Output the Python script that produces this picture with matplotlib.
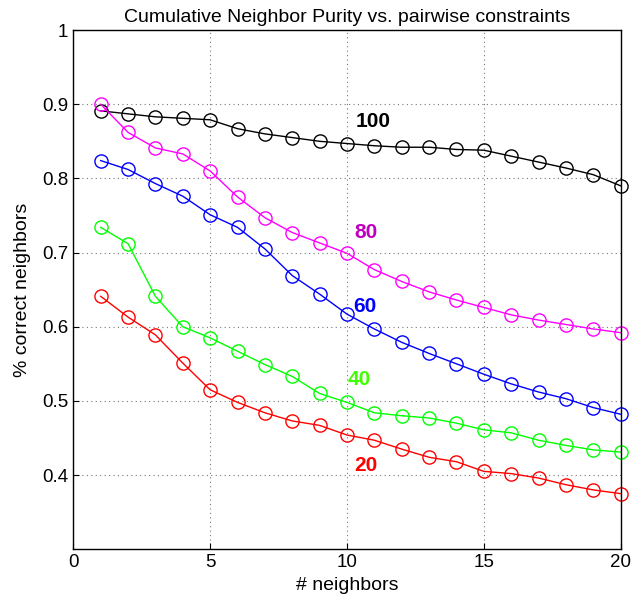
import matplotlib
matplotlib.use('Agg')
import matplotlib.pyplot as plt

plt.rcParams['font.family'] = ['Liberation Sans', 'DejaVu Sans']

# x values: number of neighbors
neighbors = list(range(1, 21))

# cumulative neighbor purity per number of pairwise constraints
purity_100 = [0.891, 0.887, 0.883, 0.881, 0.879, 0.867, 0.860, 0.855, 0.850, 0.847,
              0.844, 0.842, 0.842, 0.839, 0.838, 0.830, 0.822, 0.814, 0.805, 0.790]
purity_80 = [0.900, 0.862, 0.841, 0.833, 0.810, 0.775, 0.747, 0.727, 0.713, 0.699,
             0.677, 0.661, 0.647, 0.636, 0.626, 0.616, 0.609, 0.603, 0.597, 0.592]
purity_60 = [0.824, 0.812, 0.793, 0.776, 0.751, 0.734, 0.705, 0.669, 0.644, 0.617,
             0.597, 0.579, 0.564, 0.550, 0.536, 0.523, 0.512, 0.503, 0.491, 0.482]
purity_40 = [0.734, 0.712, 0.641, 0.600, 0.585, 0.567, 0.549, 0.533, 0.510, 0.498,
             0.484, 0.480, 0.477, 0.470, 0.461, 0.457, 0.447, 0.440, 0.434, 0.431]
purity_20 = [0.641, 0.613, 0.589, 0.551, 0.515, 0.498, 0.484, 0.473, 0.467, 0.454,
             0.447, 0.435, 0.424, 0.418, 0.405, 0.402, 0.396, 0.387, 0.380, 0.375]

series = [purity_100, purity_80, purity_60, purity_40, purity_20]
line_colors = ['black', '#ff00ff', '#0000ff', '#00ff00', '#ff0000']
labels = ['100', '80', '60', '40', '20']
label_colors = ['black', '#c000c0', '#0000ff', '#40ff00', '#ff0000']
label_pos = [(10.95, 0.877), (10.7, 0.727), (10.65, 0.627), (10.45, 0.529), (10.7, 0.413)]

fig = plt.figure(figsize=(6.32, 6.13), dpi=100)
ax = fig.add_axes([0.116, 0.104, 0.866, 0.847])

for vals, c in zip(series, line_colors):
    ax.plot(neighbors, vals, '-o', color=c, markerfacecolor='none',
            markeredgecolor=c, markersize=9.5, markeredgewidth=1.0, linewidth=1.0,
            clip_on=False)

for lab, c, (lx, ly) in zip(labels, label_colors, label_pos):
    ax.text(lx, ly, lab, color=c, fontsize=15, fontweight='bold', ha='center', va='center')

ax.set_xlim(0, 20)
ax.set_ylim(0.3, 1.0)
ax.set_xticks([0, 5, 10, 15, 20])
ax.set_yticks([0.4, 0.5, 0.6, 0.7, 0.8, 0.9, 1.0])
ax.set_yticklabels(['0.4', '0.5', '0.6', '0.7', '0.8', '0.9', '1'])
ax.grid(True, linestyle=(0, (1, 3)), color='#777777', linewidth=0.8)
ax.tick_params(direction='in', labelsize=13.5, length=4, top=False, right=False)
for s in ax.spines.values():
    s.set_linewidth(1.0)

ax.set_title('Cumulative Neighbor Purity vs. pairwise constraints', fontsize=14, pad=6)
ax.set_xlabel('# neighbors', fontsize=14)
ax.set_ylabel('% correct neighbors', fontsize=14, labelpad=8)

fig.savefig('out.png', dpi=100)
